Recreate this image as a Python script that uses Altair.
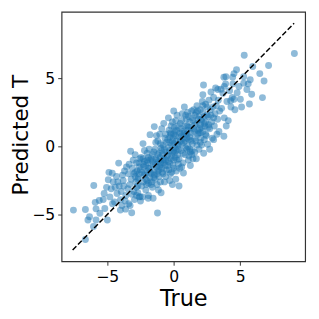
import altair as alt
import pandas as pd

true_vals = [
    -7.54, -6.64, -6.64, -6.45, -6.33, -6.03, -5.84, -5.84, -6.01, -5.60, -5.55, -5.90,
    -5.18, -5.23, -4.99, -4.92, -4.87, -5.30, -4.70, -4.60, -4.62, -5.05, -4.55, -4.80,
    -4.45, -4.26, -3.89, -4.01, -4.14, -4.30, -4.10, -3.95, -3.80, -3.70, -3.60, -4.40,
    -3.75, -3.55, -4.20, -3.65, -3.85, -4.00, -3.62, -3.38,
    -3.28, -3.16, -3.24, -3.40, -3.30, -3.10, -3.00, -2.90, -2.80, -2.70, -2.60, -3.45,
    -3.20, -3.05, -2.95, -2.85, -2.75, -2.65, -2.55, -3.35, -3.15, -2.50, -2.58, -2.90,
    -2.70, -2.60, -3.00, -2.80, -2.53,
    -2.31, -1.78, -2.40, -2.30, -2.20, -2.10, -2.00, -1.90, -1.80, -1.70, -1.60, -2.45,
    -2.35, -2.25, -2.15, -2.05, -1.95, -1.85, -1.75, -1.65, -1.55, -2.20, -2.00, -1.90,
    -1.80, -1.70, -1.60, -2.30, -1.50, -2.10, -1.92, -1.55,
    -1.46, -1.22, -1.40, -1.30, -1.20, -1.10, -1.00, -0.90, -0.80, -0.70, -0.60, -1.45,
    -1.35, -1.25, -1.15, -1.05, -0.95, -0.85, -0.75, -0.65, -0.55, -1.40, -1.30, -1.20,
    -1.10, -1.00, -0.90, -0.80, -0.70, -0.60, -0.55, -1.15, -0.95, -0.75, -1.35, -0.65,
    -1.05, -0.85,
    -0.45, -0.40, -0.35, -0.30, -0.25, -0.20, -0.15, -0.10, -0.05, 0.00, 0.05, 0.10,
    0.15, 0.20, 0.25, 0.30, 0.35, 0.40, 0.45, -0.45, -0.40, -0.35, -0.30, -0.25,
    -0.20, -0.15, -0.10, -0.05, 0.00, 0.05, 0.10, 0.15, 0.20, 0.25, 0.30, 0.35,
    0.40, 0.45, 0.00, -0.30, 0.20, -0.10, 0.00,
    0.61, 0.55, 0.60, 0.65, 0.70, 0.75, 0.80, 0.85, 0.90, 0.95, 1.00, 1.05,
    1.10, 1.15, 1.20, 1.25, 1.30, 1.35, 1.40, 1.45, 0.55, 0.60, 0.70, 0.73,
    0.80, 0.90, 1.00, 1.05, 1.10, 1.20, 1.25, 1.30, 1.40, 1.45, 0.85, 1.15,
    2.19, 2.24, 1.58, 1.55, 1.60, 1.65, 1.70, 1.75, 1.80, 1.85, 1.90, 1.95,
    2.00, 2.05, 2.10, 2.15, 2.20, 2.25, 2.30, 2.35, 2.40, 2.45, 1.60, 1.70,
    1.80, 1.90, 2.00, 2.10, 2.20, 2.30, 2.40, 2.50,
    2.55, 2.60, 2.65, 2.70, 2.75, 2.80, 2.85, 2.90, 2.95, 3.00, 3.05, 3.10,
    3.15, 3.20, 3.25, 3.30, 3.35, 3.40, 3.45, 2.70, 3.00, 3.31, 2.62,
    3.77, 3.77, 4.43, 3.60, 3.70, 3.80, 3.90, 4.00, 4.10, 4.20, 4.30, 4.40,
    3.55, 4.45, 3.95, 3.92, 3.80, 4.28,
    4.53, 4.72, 5.30, 5.26, 5.26, 5.50, 4.77, 4.53, 5.01, 4.60, 5.10, 4.90,
    5.94, 5.69, 5.86, 6.47, 6.79, 6.67, 7.13, 9.07, 5.60, 5.75,
    -2.90, -2.70, -2.50, -2.40, -2.30, -2.20, -2.10, -2.00, -1.90, -1.80, -1.70, -1.60,
    -1.50, -1.40, -1.30, -1.20, -1.10, -1.00, -0.90, -0.80, -0.70, -0.60, -0.50, -0.40,
    -0.30, -0.20, -0.10, 0.00, 0.10, 0.20, 0.30, 0.40, 0.50, 0.60, 0.70, 0.80,
    0.90, 1.00, 1.10, 1.20, 1.30, 1.40, 1.50, 1.60, 1.70, 1.80, 1.90, 2.00,
    2.10, 2.20, 2.30, 2.40, 2.50, 2.60, 2.80, 3.00, -2.80, -2.60, -1.90, -1.25,
    -0.95, -0.45, -0.15, 0.15, 0.35, 0.65, 1.05, 1.35, 1.75, 2.05, -0.60, 0.00,
    0.50, -1.00, 1.00, -1.50, -2.00, 2.00, 1.50, -0.30,
]

pred_vals = [
    -4.67, -4.63, -6.83, -5.40, -5.16, -5.87, -4.58, -5.40, -2.86, -3.97, -4.90, -4.10,
    -4.55, -3.45, -5.40, -2.44, -1.90, -3.90, -3.10, -4.20, -1.97, -3.00, -2.60, -3.70,
    -4.08, -3.45, -4.34, -4.67, -1.22, -2.20, -2.90, -3.30, -2.50, -1.80, -3.60, -3.00,
    -2.90, -1.50, -2.60, -4.00, -2.10, -3.90, -4.60, -4.20,
    -4.34, -4.86, -0.35, -2.00, -2.80, -1.60, -3.30, -2.20, -1.20, -2.90, -3.70, -3.10,
    -2.40, -1.00, -3.90, -2.60, -1.80, -2.30, -0.90, -1.30, -3.50, -4.00, -1.50, -0.60,
    -3.40, -2.00, -2.00, -3.00, -3.68,
    0.21, 0.87, -1.90, -2.60, -1.10, -3.20, -0.50, -1.60, -2.30, -0.90, -3.00, -0.80,
    -3.70, -1.50, -2.00, -2.80, -1.20, -0.20, -1.90, -2.60, -1.40, -0.30, -1.80, -3.60,
    -1.00, -2.00, -0.60, -1.30, -2.30, -2.40, -3.80, -3.80,
    1.46, -4.88, -0.20, -1.50, 0.40, -2.20, -0.80, -1.60, 0.10, -2.60, -0.40, -2.10,
    -0.90, -2.80, -1.10, 0.90, -0.10, -1.90, -1.20, 0.60, -1.70, -1.30, 0.80, -1.80,
    -0.50, -2.60, 1.30, -1.00, -0.20, -2.20, 0.30, -3.20, -3.40, 1.70, 0.30, -1.40,
    -1.50, -0.60,
    0.50, -1.10, 1.20, -0.30, -2.00, 0.90, -0.70, 1.80, -1.40, 0.20, -0.50, 1.10,
    -2.40, 0.40, -1.00, 1.50, -0.20, 0.70, -1.60, -0.60, 2.10, -1.70, 0.30, 1.00,
    -0.90, 0.10, -2.80, 0.60, -1.00, 1.40, -0.10, 0.80, -1.80, 2.30, -0.60, 0.10,
    -2.90, 1.00, 2.60, -2.50, -0.30, 0.40, -1.60,
    1.92, -0.30, 0.80, 2.40, -1.20, 0.30, 1.50, -0.60, 0.90, 2.00, -0.20, 1.20,
    -1.00, 0.50, 1.80, -0.40, 1.00, 2.60, 0.20, -0.90, 1.30, -1.50, 0.60, -1.95,
    2.90, -0.10, 1.50, 0.00, 2.20, 0.70, -1.40, 1.40, -0.30, 1.90, 0.40, -0.70,
    3.80, 4.51, -0.42, 1.10, 2.30, 0.40, 1.70, 3.00, 0.90, 2.00, -0.20, 1.30,
    2.70, 0.60, 1.90, 3.30, 1.10, -0.50, 2.20, 1.50, 3.10, 0.80, 1.60, -0.90,
    2.60, 1.00, 1.60, 0.10, 2.50, 0.50, 1.80, 2.90,
    0.16, 2.20, 3.40, 1.30, 2.70, 4.00, 1.80, 0.60, 2.90, 3.60, 1.50, 2.40,
    4.30, 3.00, 0.90, 2.00, 3.40, 1.10, 2.60, -0.20, 0.50, 4.18, 1.60,
    0.75, 5.09, 5.09, 2.80, 3.90, 2.10, 4.60, 3.30, 1.90, 4.10, 2.90, 3.60,
    4.20, 4.60, 1.50, 5.12, 4.41, 3.36,
    5.35, 5.63, 6.70, 5.12, 4.65, 4.18, 3.94, 3.47, 3.47, 2.70, 2.90, 4.40,
    5.87, 3.12, 3.83, 5.35, 4.81, 3.59, 5.94, 6.83, 4.60, 4.90,
    -1.90, -2.40, -1.70, -2.90, -0.90, -2.10, -1.40, -2.50, -0.80, -1.60, -2.80, -1.10,
    -0.40, -2.40, -1.00, -0.60, -1.70, -1.20, -0.30, -2.00, -0.90, 0.90, -0.70, -0.10,
    -1.20, 1.50, -0.40, 0.90, -0.80, 1.20, 0.20, -0.90, 1.70, 0.20, -0.50, 1.00,
    2.30, 0.60, 1.40, -0.20, 0.40, 2.10, 1.30, 0.60, 2.50, 1.20, 2.20, 0.30,
    1.40, 3.00, 1.70, 0.90, 2.30, 1.40, 2.30, 2.10, -3.60, -1.20, -2.70, -2.00,
    -1.30, -1.40, -1.90, 1.90, -1.30, 1.10, 2.50, -0.60, 0.10, 2.00, -1.00, -0.30,
    0.40, 0.20, 0.90, -1.90, -1.00, 1.00, 2.70, 0.70,
]

line_vals = [-7.6, 9.05]

n = min(len(true_vals), len(pred_vals))
df = pd.DataFrame({"True": true_vals[:n], "Pred": pred_vals[:n]})
line_df = pd.DataFrame({"True": line_vals, "Pred": line_vals})

dom = [-8.43, 9.88]
font = "DejaVu Sans"

x_axis = alt.Axis(values=[-5, 0, 5], labelFontSize=16, titleFontSize=23, labelFont=font,
                  titleFont=font, titleFontWeight="normal", labelColor="black",
                  titleColor="black", grid=False, domain=False, tickSize=4,
                  tickColor="#333333", labelPadding=4, titleY=45, titleBaseline="alphabetic",
                  format="d")
y_axis = alt.Axis(values=[-5, 0, 5], labelFontSize=16, titleFontSize=22, labelFont=font,
                  titleFont=font, titleFontWeight="normal", labelColor="black",
                  titleColor="black", grid=False, domain=False, tickSize=4,
                  tickColor="#333333", labelPadding=3, titleX=-35, titleY=126,
                  titleBaseline="alphabetic", format="d")

xs = alt.Scale(domain=dom, nice=False, zero=False)
ys = alt.Scale(domain=dom, nice=False, zero=False)

pts = alt.Chart(df).mark_circle(size=50, opacity=0.5, color="#1f77b4").encode(
    x=alt.X("True:Q", scale=xs, axis=x_axis, title="True"),
    y=alt.Y("Pred:Q", scale=ys, axis=y_axis, title="Predicted T"),
)

line = alt.Chart(line_df).mark_line(color="black", strokeWidth=1.5, strokeDash=[5.5, 2.4]).encode(
    x=alt.X("True:Q", scale=xs),
    y=alt.Y("Pred:Q", scale=ys),
)

chart = (pts + line).properties(
    width=250, height=256,
    autosize=alt.AutoSizeParams(type="none"),
    padding={"left": 55, "top": 0, "right": 6, "bottom": 47},
).configure_view(stroke="#333333", strokeWidth=1.2).configure_axis(labelFont=font, titleFont=font)

chart.save("out.html", embed_options={"renderer": "svg", "actions": False})
